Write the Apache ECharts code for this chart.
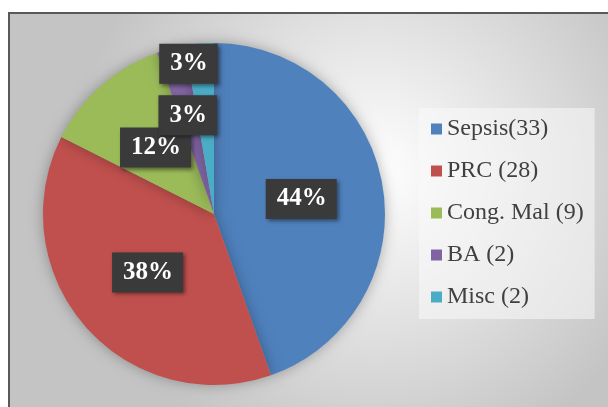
<!DOCTYPE html>
<html>
<head>
<meta charset="utf-8">
<script src="https://cdn.jsdelivr.net/npm/echarts@6/dist/echarts.min.js"></script>
<style>
  html, body { margin: 0; padding: 0; background: #fff; }
  #chart { width: 608px; height: 407px; }
</style>
</head>
<body>
<div id="chart"></div>
<script>
// data
const categories = ["Sepsis(33)", "PRC (28)", "Cong. Mal (9)", "BA (2)", "Misc (2)"]
const counts = [33, 28, 9, 2, 2]
const pctLabels = ["44%", "38%", "12%", "3%", "3%"]
const colors = ["#4f81bd", "#c0504d", "#9bbb59", "#8064a2", "#4bacc6"]

const chart = echarts.init(document.getElementById("chart"))

// small slices: labels pushed up like the original best-fit
const labelShift = { 3: { dx: -4, dy: -13 }, 4: { dx: -18, dy: -62 } }

const option = {
  animation: false,
  graphic: [
    {
      type: "rect",
      shape: { x: 9, y: 13, width: 610, height: 400 },
      style: {
        fill: {
          type: "radial", x: 0.6, y: 0.4, r: 0.75,
          colorStops: [
            { offset: 0, color: "#ffffff" },
            { offset: 1, color: "#c4c4c4" },
          ],
        },
        stroke: "#595959",
        lineWidth: 2,
      },
      z: -10,
    },
  ],
  color: colors,
  legend: {
    orient: "vertical",
    left: 419,
    top: 108,
    padding: [9, 11, 10, 12],
    backgroundColor: "rgba(250,250,250,0.55)",
    itemWidth: 11,
    itemHeight: 11,
    itemGap: 18,
    icon: "rect",
    textStyle: {
      fontFamily: "Liberation Serif",
      fontSize: 24,
      lineHeight: 24,
      color: "#404040",
    },
    data: categories,
  },
  series: [
    {
      type: "pie",
      center: [214, 214],
      radius: [0, 171],
      startAngle: 90,
      clockwise: true,
      avoidLabelOverlap: false,
      itemStyle: {
        shadowBlur: 14,
        shadowColor: "rgba(0,0,0,0.3)",
      },
      label: {
        show: true,
        position: "inside",
        formatter: p => pctLabels[p.dataIndex],
        fontFamily: "Liberation Serif",
        fontWeight: "bold",
        fontSize: 25,
        lineHeight: 28,
        color: "#ffffff",
        backgroundColor: "#3a3a3a",
        padding: [6, 10, 6, 11],
        shadowBlur: 4,
        shadowOffsetX: 2,
        shadowOffsetY: 2,
        shadowColor: "rgba(0,0,0,0.45)",
      },
      labelLine: { show: false },
      emphasis: { disabled: true },
      labelLayout: p => labelShift[p.dataIndex] || {},
      data: categories.map((name, i) => ({ name, value: counts[i] })),
    },
  ],
}

chart.setOption(option)
</script>
</body>
</html>
